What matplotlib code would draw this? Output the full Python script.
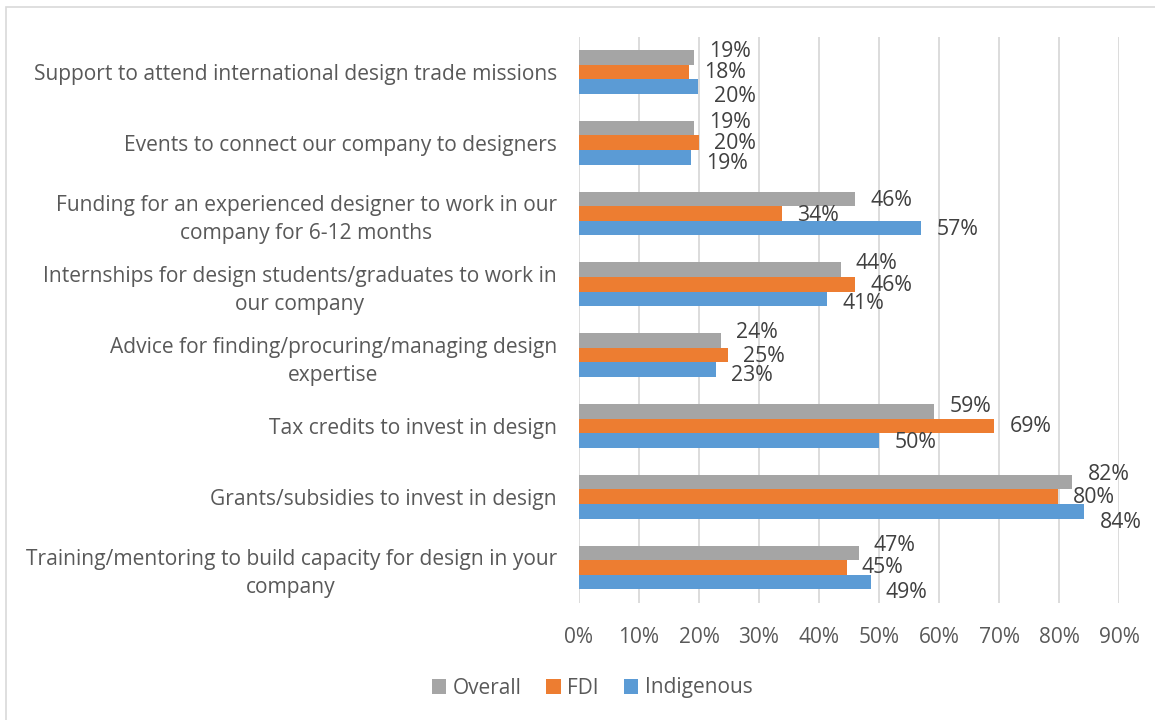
import matplotlib
matplotlib.use("Agg")
from matplotlib import pyplot as plt
from matplotlib.patches import Rectangle
import numpy as np

plt.rcParams['font.family'] = ['Open Sans', 'DejaVu Sans']

categories = [
    "Support to attend international design trade missions",
    "Events to connect our company to designers",
    "Funding for an experienced designer to work in our\ncompany for 6-12 months",
    "Internships for design students/graduates to work in\nour company",
    "Advice for finding/procuring/managing design\nexpertise",
    "Tax credits to invest in design",
    "Grants/subsidies to invest in design",
    "Training/mentoring to build capacity for design in your\ncompany",
]
series = ["Overall", "FDI", "Indigenous"]
overall = [0.192, 0.192, 0.460, 0.436, 0.237, 0.592, 0.822, 0.466]
fdi = [0.183, 0.200, 0.338, 0.460, 0.248, 0.692, 0.798, 0.446]
indigenous = [0.199, 0.186, 0.570, 0.414, 0.228, 0.500, 0.842, 0.486]
xticks = [0.0, 0.1, 0.2, 0.3, 0.4, 0.5, 0.6, 0.7, 0.8, 0.9]

colors = ["#A5A5A5", "#ED7D31", "#5B9BD5"]
text_col = "#595959"
label_col = "#404040"

# vertical nudges (px, down positive) so the value labels in a group don't collide
nudges = [
    (-6, 1, 10), (-6, 1, 6), (2, 2, 1), (-6, 1, 5),
    (-8, 1, 6), (-5, 1, 2), (-8, 1, 11), (-8, 0, 10),
]

W, H = 1155, 720
fig = plt.figure(figsize=(W / 100, H / 100), dpi=100)
ax = fig.add_axes([579 / W, 1 - 603 / H, 540 / W, (603 - 36.5) / H])

y = np.arange(len(categories))
bh = 0.206
for i, (vals, col, name) in enumerate(zip([overall, fdi, indigenous], colors, series)):
    pos = y + (i - 1) * bh
    ax.barh(pos, vals, height=bh, color=col, label=name, zorder=2)
    for j, v in enumerate(vals):
        ax.annotate("%d%%" % round(v * 100), xy=(v, pos[j]),
                    xytext=(11, -nudges[j][i] * 0.72), textcoords="offset points",
                    ha="left", va="center", fontsize=15.3, color=label_col)

ax.set_xlim(0, 0.9)
ax.set_ylim(len(categories) - 0.5, -0.5)
ax.set_xticks(xticks)
ax.set_xticklabels(["%d%%" % round(t * 100) for t in xticks])
ax.set_yticks(y)
ax.set_yticklabels(categories)
for lbl in ax.get_yticklabels():
    lbl.set_multialignment("center")
    lbl.set_linespacing(1.45)
ax.tick_params(axis="y", length=0, pad=16, labelsize=15.1, labelcolor=text_col)
ax.tick_params(axis="x", length=0, pad=17, labelsize=15, labelcolor=text_col)
ax.grid(axis="x", color="#D9D9D9", linewidth=1.3, zorder=0)
ax.set_axisbelow(True)
for s in ax.spines.values():
    s.set_visible(False)

fig.legend(loc="center", bbox_to_anchor=(592 / W, 1 - 688 / H), ncol=3,
           frameon=False, handlelength=0.7, handleheight=0.7, handletextpad=0.3,
           columnspacing=1.2, fontsize=15, labelcolor=text_col)

# light chart frame
fig.patches.append(Rectangle((6 / W, -0.1), 2, 1.1 - 7 / H, transform=fig.transFigure,
                             fill=False, edgecolor="#D9D9D9", linewidth=1.2))

fig.savefig("out.png", dpi=100)
